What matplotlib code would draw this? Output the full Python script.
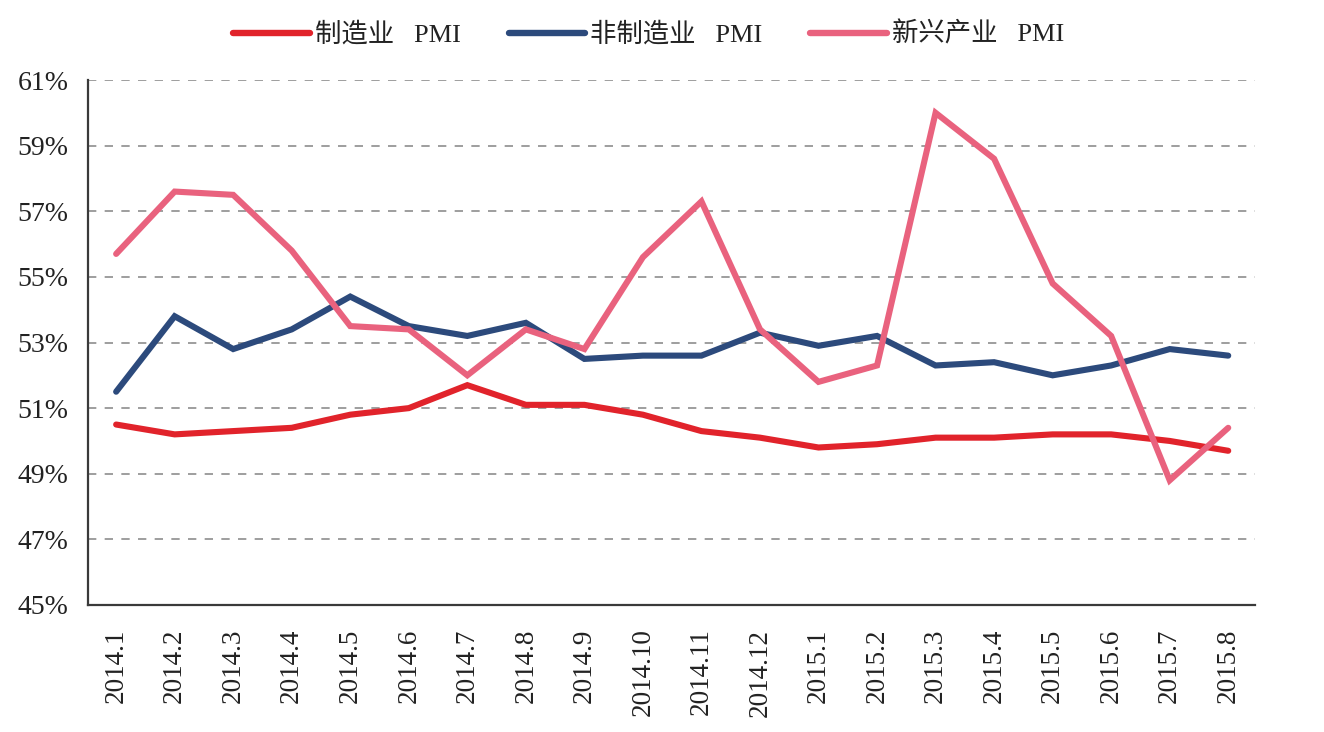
import matplotlib
matplotlib.use("Agg")
import matplotlib.pyplot as plt
from matplotlib.ticker import FuncFormatter

months = ["2014.1", "2014.2", "2014.3", "2014.4", "2014.5", "2014.6", "2014.7",
          "2014.8", "2014.9", "2014.10", "2014.11", "2014.12", "2015.1", "2015.2",
          "2015.3", "2015.4", "2015.5", "2015.6", "2015.7", "2015.8"]
manufacturing = [50.5, 50.2, 50.3, 50.4, 50.8, 51.0, 51.7, 51.1, 51.1, 50.8,
                 50.3, 50.1, 49.8, 49.9, 50.1, 50.1, 50.2, 50.2, 50.0, 49.7]
non_manufacturing = [51.5, 53.8, 52.8, 53.4, 54.4, 53.5, 53.2, 53.6, 52.5, 52.6,
                     52.6, 53.3, 52.9, 53.2, 52.3, 52.4, 52.0, 52.3, 52.8, 52.6]
emerging = [55.7, 57.6, 57.5, 55.8, 53.5, 53.4, 52.0, 53.4, 52.8, 55.6,
            57.3, 53.4, 51.8, 52.3, 60.0, 58.6, 54.8, 53.2, 48.8, 50.4]
series_names = ["制造业   PMI", "非制造业   PMI", "新兴产业   PMI"]
yticks = [45, 47, 49, 51, 53, 55, 57, 59, 61]

colors = ["#E1232B", "#2C4A7C", "#E9627E"]

serif = ["Liberation Serif", "Noto Sans CJK SC", "DejaVu Sans"]
plt.rcParams["font.family"] = serif

fig = plt.figure(figsize=(13.24, 7.32), dpi=100)
ax = fig.add_axes([0.0665, 0.1735, 0.8815, 0.7172])

x = list(range(len(months)))
for vals, name, c in zip([manufacturing, non_manufacturing, emerging], series_names, colors):
    ax.plot(x, vals, color=c, lw=4.4, label=name, solid_capstyle="round",
            solid_joinstyle="miter")

ax.set_ylim(45, 61)
ax.set_xlim(-0.48, 19.46)
ax.set_yticks(yticks)
ax.yaxis.set_major_formatter(FuncFormatter(lambda v, p: f"{int(round(v))}%"))
ax.set_xticks(x)
ax.set_xticklabels(months, rotation=90, fontsize=19.5, color="#222222")
for lbl in ax.get_yticklabels():
    lbl.set_fontsize(20)
    lbl.set_color("#222222")
ax.tick_params(axis="both", length=0)
ax.tick_params(axis="x", pad=17)
ax.tick_params(axis="y", pad=14)

for v in yticks[1:]:
    ax.axhline(v, color="#8E8E8E", lw=1.2, dashes=(5, 5), zorder=0)

for s in ["top", "right"]:
    ax.spines[s].set_visible(False)
for s in ["left", "bottom"]:
    ax.spines[s].set_color("#3A3A3A")
    ax.spines[s].set_linewidth(1.6)

leg = fig.legend(loc="upper center", bbox_to_anchor=(0.49, 1.003), ncol=3,
                 frameon=False, handlelength=2.9, columnspacing=1.8,
                 handletextpad=0.2, prop={"family": serif, "size": 19})
for t in leg.get_texts():
    t.set_color("#222222")
for h in leg.get_lines():
    h.set_linewidth(4.6)

fig.savefig("out.png", dpi=100)
